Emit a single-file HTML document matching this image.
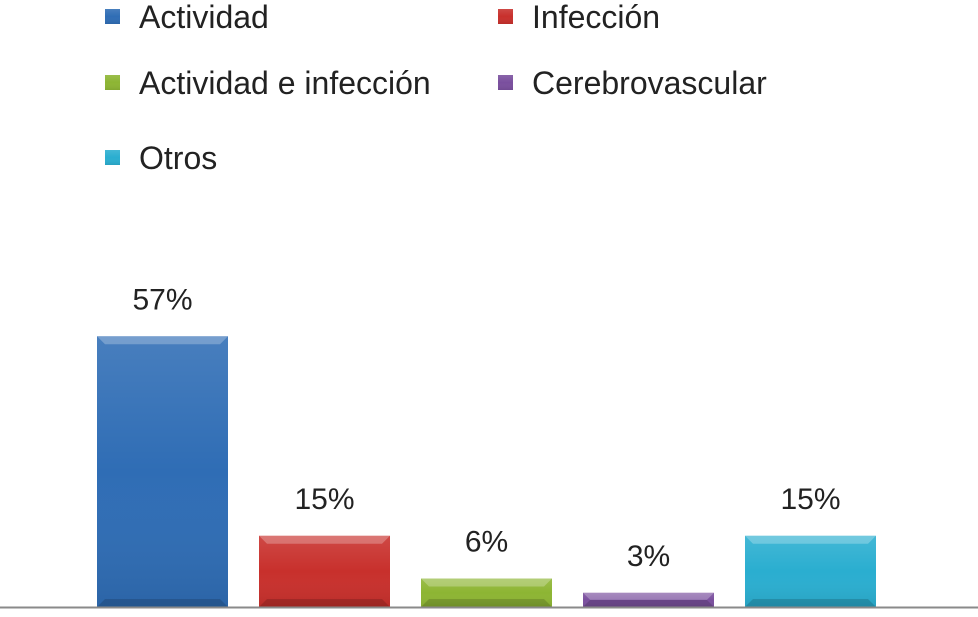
<!DOCTYPE html>
<html><head><meta charset="utf-8"><style>
html,body{margin:0;padding:0;background:#fff;}
svg{display:block;font-family:"Liberation Sans",Arial,sans-serif;}
</style></head><body>
<svg id="chart" width="978" height="617" xmlns="http://www.w3.org/2000/svg">
<defs>
<linearGradient id="shine" x1="0" y1="0" x2="0" y2="1">
<stop offset="0" stop-color="#fff" stop-opacity="0.12"/>
<stop offset="0.5" stop-color="#fff" stop-opacity="0"/>
<stop offset="1" stop-color="#000" stop-opacity="0.08"/>
</linearGradient>
</defs>
<g id="legend"></g>
<g id="bars"></g>
<line x1="0" y1="607.5" x2="978" y2="607.5" stroke="#8a8a8a" stroke-width="2"/>
</svg>
<script>
const categories = ["Actividad","Infección","Actividad e infección","Cerebrovascular","Otros"];
const values = [57,15,6,3,15];
const valueLabels = ["57%","15%","6%","3%","15%"];
const colors = ["#2f6db5","#c8302c","#8db533","#7a4f9e","#2aaed0"];

const NS="http://www.w3.org/2000/svg";
const barsG=document.getElementById('bars');
const legG=document.getElementById('legend');
const baseY=607, pxPer=4.75, x0=97, step=162, bw=131;
function xPos(i){return x0+i*step;}
function yPos(v){return baseY-v*pxPer;}
function mk(tag,attrs){const e=document.createElementNS(NS,tag);for(const k in attrs)e.setAttribute(k,attrs[k]);return e;}

values.forEach((v,i)=>{
  const x=xPos(i), y=yPos(v), h=baseY-y;
  const g=mk('g',{});
  
  
  g.appendChild(mk('rect',{x:x,y:y,width:bw,height:h,fill:colors[i]}));
  g.appendChild(mk('rect',{x:x,y:y,width:bw,height:h,fill:'url(#shine)'}));
  const b=Math.min(8,h/2);
  g.appendChild(mk('polygon',{points:`${x},${y} ${x+bw},${y} ${x+bw-b},${y+b} ${x+b},${y+b}`,fill:'#fff','fill-opacity':0.25}));
  g.appendChild(mk('polygon',{points:`${x},${y+h} ${x+bw},${y+h} ${x+bw-b},${y+h-b} ${x+b},${y+h-b}`,fill:'#000','fill-opacity':0.15}));
  barsG.appendChild(g);
  const t=mk('text',{x:x+bw/2,y:y-27,'text-anchor':'middle','font-size':30,fill:'#222'});
  t.textContent=valueLabels[i];
  
  
  barsG.appendChild(t);
});

const legPos=[[105,17],[498,17],[105,83],[498,83],[105,158]];
categories.forEach((c,i)=>{
  const [lx,ly]=legPos[i];
  const g=mk('g',{});
  
  
  g.appendChild(mk('rect',{x:lx,y:ly-8,width:15,height:15,fill:colors[i]}));
  g.appendChild(mk('rect',{x:lx,y:ly-8,width:15,height:15,fill:'url(#shine)'}));
  const t=mk('text',{x:lx+34,y:ly+11,'font-size':32,fill:'#222'});
  t.textContent=c;
  g.appendChild(t);
  legG.appendChild(g);
});
</script>
</body></html>
